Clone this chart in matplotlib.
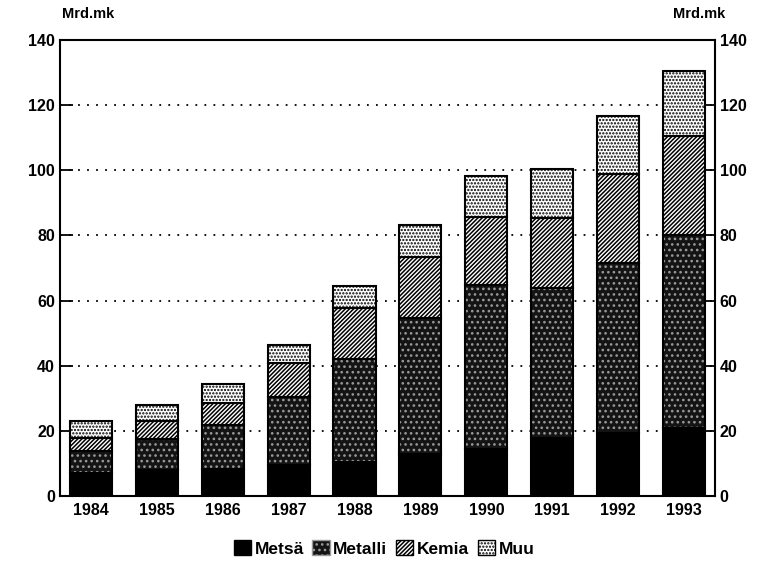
import numpy as np
import matplotlib.pyplot as plt
from matplotlib.patches import Patch

plt.rcParams['font.family'] = ['Liberation Sans', 'DejaVu Sans']
plt.rcParams['hatch.linewidth'] = 1.1

years = ['1984', '1985', '1986', '1987', '1988', '1989', '1990', '1991', '1992', '1993']
metsa = [7, 8, 8.5, 9.5, 10.5, 13, 14.5, 18, 19.5, 21]
metalli = [7, 9.5, 13.3, 21, 31.5, 41.6, 50.3, 45.8, 52, 59]
kemia = [4, 5.5, 6.8, 10.3, 15.7, 18.8, 20.9, 21.5, 27.5, 30.5]
muu = [5, 5, 5.8, 5.6, 6.8, 9.8, 12.6, 15.1, 17.8, 20]

x = np.arange(len(years))
w = 0.64

fig = plt.figure(figsize=(7.68, 5.79), dpi=100)
ax = fig.add_axes([0.078, 0.143, 0.853, 0.788])

# grid
for v in range(20, 140, 20):
    ax.axhline(v, color='black', linestyle=(0, (1, 4)), linewidth=1.3, zorder=0)

b1 = np.array(metsa)
b2 = b1 + np.array(metalli)
b3 = b2 + np.array(kemia)

ax.bar(x, metsa, w, color='black', edgecolor='black', linewidth=1.5, zorder=2)
# Metalli: dark with white stipple
ax.bar(x, metalli, w, bottom=b1, color='#141414', edgecolor='#999999', hatch='...', linewidth=0, zorder=2)
ax.bar(x, metalli, w, bottom=b1, fill=False, edgecolor='black', linewidth=1.5, zorder=3)
# Kemia: diagonal lines
ax.bar(x, kemia, w, bottom=b2, color='white', edgecolor='black', hatch='////////', linewidth=1.5, zorder=2)
# Muu: light stipple
ax.bar(x, muu, w, bottom=b3, color='white', edgecolor='black', hatch='.....', linewidth=1.5, zorder=2)

ax.set_xlim(-0.47, 9.47)
ax.set_ylim(0, 140)
ax.set_yticks(range(0, 141, 20))
ax.set_xticks(x)
ax.set_xticklabels(years)
ax.tick_params(axis='y', direction='in', length=9, width=1.3, left=True, right=True,
               labelleft=True, labelright=True, labelsize=11.5)
ax.tick_params(axis='x', length=0, labelsize=11.5, pad=5)
for lab in ax.get_xticklabels() + ax.get_yticklabels():
    lab.set_fontweight('bold')
for s in ax.spines.values():
    s.set_linewidth(1.5)

fig.text(0.081, 0.975, 'Mrd.mk', fontsize=10.5, fontweight='bold', va='center')
fig.text(0.944, 0.975, 'Mrd.mk', fontsize=10.5, fontweight='bold', va='center', ha='right')

handles = [
    Patch(facecolor='black', edgecolor='black', label='Metsä'),
    Patch(facecolor='#141414', edgecolor='#999999', hatch='...', label='Metalli'),
    Patch(facecolor='white', edgecolor='black', hatch='////////', label='Kemia'),
    Patch(facecolor='white', edgecolor='black', hatch='.....', label='Muu'),
]
leg = fig.legend(handles=handles, loc='center', bbox_to_anchor=(0.5, 0.053), ncol=4,
                 frameon=False, handlelength=1.0, handleheight=1.0, handletextpad=0.2,
                 columnspacing=0.5, prop={'size': 12.5, 'weight': 'bold'})

fig.savefig('out.png', dpi=100)
